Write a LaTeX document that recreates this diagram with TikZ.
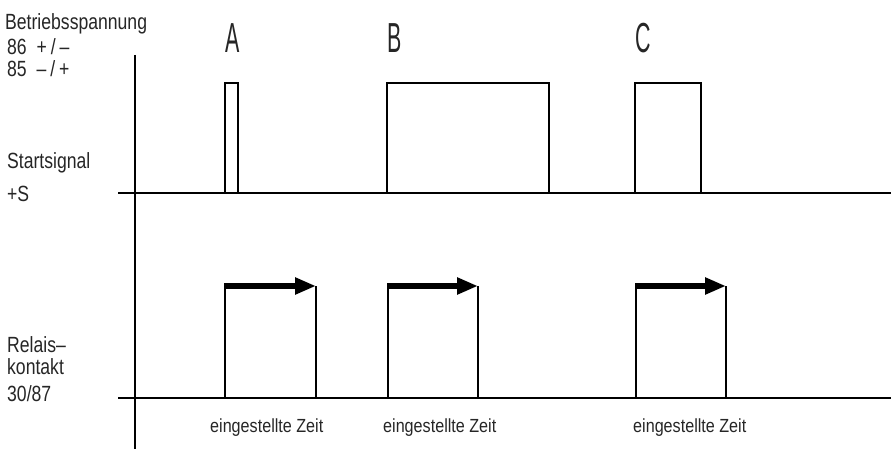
\documentclass[tikz,border=0pt]{standalone}
\usepackage{fontspec}
\usetikzlibrary{arrows.meta}
\newfontfamily\cadfont[FakeStretch=0.8]{Liberation Sans}
\newfontfamily\cadzeit[FakeStretch=0.85]{Liberation Sans}
\newfontfamily\cadbig[FakeStretch=0.51]{Liberation Sans}
\begin{document}
\begin{tikzpicture}[x=1pt,y=-1pt,
  lbl/.style={anchor=base west,inner sep=0pt,text=black!85,font=\cadfont\fontsize{22}{24}\selectfont},
  big/.style={anchor=base,inner sep=0pt,text=black!85,font=\cadbig\fontsize{42}{44}\selectfont},
  zeit/.style={anchor=base west,inner sep=0pt,text=black!85,font=\cadzeit\fontsize{19}{21}\selectfont},
  axis/.style={line width=2pt},
  base/.style={line width=1.1pt},
  pulse/.style={line width=1.5pt},
  timer/.style={line width=6pt,-{Triangle[length=21pt,width=16pt]}}]
\useasboundingbox (0,0) rectangle (891,449);
% axes
\coordinate (axT) at (135,55);
\coordinate (axB) at (135,449);
\draw[axis] (axT) -- (axB);
\coordinate (u0) at (118,193); \coordinate (u1) at (891,193);
\coordinate (l0) at (118,398); \coordinate (l1) at (891,398);
\draw[base] (u0) -- (u1);
\draw[base] (l0) -- (l1);
% left labels
\node[lbl] (t1) at (5,30) {Betriebsspannung};
\node[lbl] (t2) at (7,55) {86\ \ +\kern4pt/\kern4pt–};
\node[lbl] (t3) at (7,77) {85\ \ –\kern4pt/\kern4pt+};
\node[lbl] (t4) at (7,169) {Startsignal};
\node[lbl] (t5) at (7,201) {+S};
\node[lbl] (t6) at (7,352) {Relais–};
\node[lbl] (t7) at (7,374) {kontakt};
\node[lbl] (t8) at (7,401) {30/87};
% A B C
\node[big] (A) at (233,53) {A};
\node[big] (B) at (395,53) {B};
\node[big] (C) at (643,53) {C};
% upper pulses
\draw[pulse] (225,193) |- (238,83) -- (238,193);
\draw[pulse] (387,193) |- (549,83) -- (549,193);
\draw[pulse] (635,193) |- (701,83) -- (701,193);
% lower relay pulses
\coordinate (a0) at (225,398); \coordinate (a1) at (225,283);
\coordinate (a2) at (316,286); \coordinate (a3) at (316,398);
\draw[pulse] (a0) -- (a1); \draw[pulse] (a2) -- (a3);
\draw[timer] (224.3,286) -- (a2);
\coordinate (b0) at (388,398); \coordinate (b1) at (388,283);
\coordinate (b2) at (478,286); \coordinate (b3) at (478,398);
\draw[pulse] (b0) -- (b1); \draw[pulse] (b2) -- (b3);
\draw[timer] (387.3,286) -- (b2);
\coordinate (c0) at (636,398); \coordinate (c1) at (636,283);
\coordinate (c2) at (726,286); \coordinate (c3) at (726,398);
\draw[pulse] (c0) -- (c1); \draw[pulse] (c2) -- (c3);
\draw[timer] (635.3,286) -- (c2);
% labels
\node[zeit] (z1) at (210,432) {eingestellte Zeit};
\node[zeit] (z2) at (383,432) {eingestellte Zeit};
\node[zeit] (z3) at (633,432) {eingestellte Zeit};
\end{tikzpicture}
\end{document}
